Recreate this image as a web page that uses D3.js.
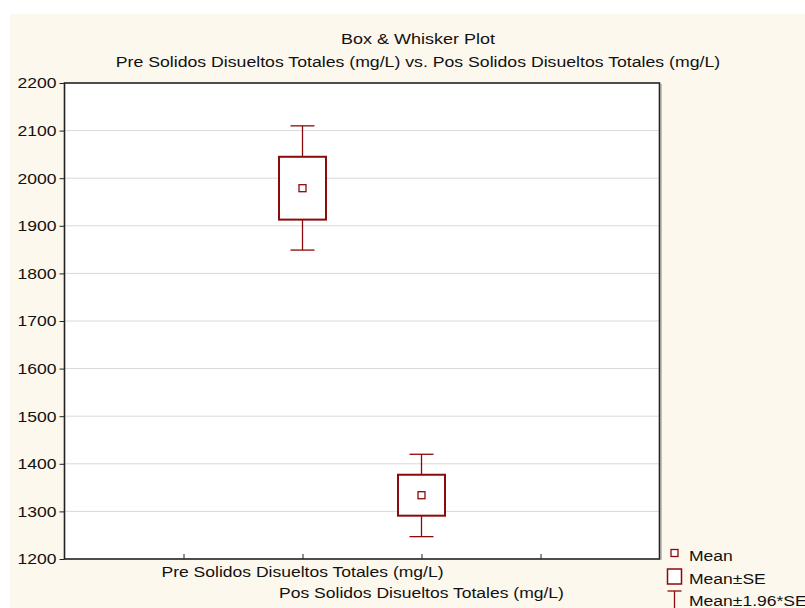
<!DOCTYPE html>
<html>
<head>
<meta charset="utf-8">
<script src="https://cdn.jsdelivr.net/npm/d3@7/dist/d3.min.js"></script>
<style>
  html, body { margin: 0; padding: 0; background: #ffffff; }
  svg { display: block; font-family: "Liberation Sans", Arial, sans-serif; }
</style>
</head>
<body>
<svg id="chart" width="805" height="608"></svg>
<script>
// Variables and their summary statistics (mg/L)
const categories = ["Pre Solidos Disueltos Totales (mg/L)", "Pos Solidos Disueltos Totales (mg/L)"];
const categoryPos = [2, 3];            // slot on the categorical axis
const means  = [1979, 1334];
const seLow  = [1913, 1291];           // Mean - SE
const seHigh = [2045, 1377];           // Mean + SE
const ciLow  = [1849, 1247];           // Mean - 1.96*SE
const ciHigh = [2110, 1420];           // Mean + 1.96*SE
const yTicks = [1200, 1300, 1400, 1500, 1600, 1700, 1800, 1900, 2000, 2100, 2200];
const xTicks = [1, 2, 3, 4];

const title = "Box & Whisker Plot";
const subtitle = "Pre Solidos Disueltos Totales (mg/L) vs. Pos Solidos Disueltos Totales (mg/L)";
const legendItems = ["Mean", "Mean\u00B1SE", "Mean\u00B11.96*SE"];

const RED = "#8b0a0a";
const FONT = "15.5px";
const svg = d3.select("#chart");

// widen glyphs slightly (wide sans rendering)
function widen(sel, k = 1.13) {
  sel.each(function () {
    const w = this.getComputedTextLength();
    d3.select(this).attr("textLength", w * k).attr("lengthAdjust", "spacingAndGlyphs");
  });
}

// cream panel
svg.append("rect").attr("x", 10).attr("y", 14).attr("width", 795).attr("height", 594).attr("fill", "#fdf8ee");

const plot = { left: 64.5, right: 659.5, top: 83, bottom: 559 };

const x = d3.scaleLinear().domain([0, 5]).range([plot.left, plot.right]);
const y = d3.scaleLinear().domain([1200, 2200]).range([plot.bottom, plot.top]);

// plot area background
svg.append("rect")
  .attr("x", plot.left).attr("y", plot.top)
  .attr("width", plot.right - plot.left).attr("height", plot.bottom - plot.top)
  .attr("fill", "#ffffff");

// horizontal gridlines
svg.append("g").selectAll("line")
  .data(yTicks.filter(t => t > 1200 && t < 2200))
  .join("line")
  .attr("x1", plot.left).attr("x2", plot.right)
  .attr("y1", d => y(d)).attr("y2", d => y(d))
  .attr("stroke", "#d9d9d9").attr("stroke-width", 1);

// y axis
const yAxis = svg.append("g")
  .attr("transform", `translate(${plot.left},0)`)
  .call(d3.axisLeft(y).tickValues(yTicks).tickSize(5).tickPadding(3).tickFormat(d3.format("d")));
yAxis.select(".domain").remove();
yAxis.selectAll(".tick line").attr("stroke", "#222");
yAxis.selectAll(".tick text").attr("fill", "#111").style("font-size", FONT).style("font-family", "Liberation Sans, Arial, sans-serif");
widen(yAxis.selectAll(".tick text"));

// x axis ticks (inward)
const xAxis = svg.append("g")
  .attr("transform", `translate(0,${plot.bottom})`)
  .call(d3.axisTop(x).tickValues(xTicks).tickSize(5).tickFormat(""));
xAxis.select(".domain").remove();
xAxis.selectAll(".tick line").attr("stroke", "#222");

// frame
svg.append("rect")
  .attr("x", plot.left).attr("y", plot.top)
  .attr("width", plot.right - plot.left).attr("height", plot.bottom - plot.top)
  .attr("fill", "none").attr("stroke", "#222").attr("stroke-width", 1.6);
svg.append("line")
  .attr("x1", plot.right + 1.5).attr("x2", plot.right + 1.5)
  .attr("y1", plot.top + 1).attr("y2", plot.bottom + 1)
  .attr("stroke", "#888").attr("stroke-width", 1);

// category labels, staggered
const catLabels = svg.append("g").selectAll("text")
  .data(categories)
  .join("text")
  .attr("x", (d, i) => x(categoryPos[i]))
  .attr("y", (d, i) => i === 0 ? 577 : 598)
  .attr("text-anchor", "middle")
  .attr("fill", "#111")
  .style("font-size", FONT)
  .text(d => d);
widen(catLabels);

// boxes and whiskers
const boxW = 47, capW = 24, meanSize = 7;
const g = svg.append("g");
categories.forEach((c, i) => {
  const cx = x(categoryPos[i]);
  // whisker stems
  g.append("line").attr("x1", cx).attr("x2", cx).attr("y1", y(ciHigh[i])).attr("y2", y(seHigh[i]))
    .attr("stroke", RED).attr("stroke-width", 1.3);
  g.append("line").attr("x1", cx).attr("x2", cx).attr("y1", y(seLow[i])).attr("y2", y(ciLow[i]))
    .attr("stroke", RED).attr("stroke-width", 1.3);
  // caps
  [ciHigh[i], ciLow[i]].forEach(v => {
    g.append("line").attr("x1", cx - capW / 2).attr("x2", cx + capW / 2).attr("y1", y(v)).attr("y2", y(v))
      .attr("stroke", RED).attr("stroke-width", 1.3);
  });
  // box
  g.append("rect")
    .attr("x", cx - boxW / 2).attr("y", y(seHigh[i]))
    .attr("width", boxW).attr("height", y(seLow[i]) - y(seHigh[i]))
    .attr("fill", "#ffffff").attr("stroke", RED).attr("stroke-width", 2);
  // mean marker
  g.append("rect")
    .attr("x", cx - meanSize / 2).attr("y", y(means[i]) - meanSize / 2)
    .attr("width", meanSize).attr("height", meanSize)
    .attr("fill", "#ffffff").attr("stroke", RED).attr("stroke-width", 1.3);
});

// titles
const t1 = svg.append("text").attr("x", 418).attr("y", 44).attr("text-anchor", "middle")
  .attr("fill", "#111").style("font-size", FONT).text(title);
const t2 = svg.append("text").attr("x", 418).attr("y", 67).attr("text-anchor", "middle")
  .attr("fill", "#111").style("font-size", FONT).text(subtitle);
widen(t1, 1.16);
widen(t2, 1.14);

// legend
const lg = svg.append("g");
const lx = 674.5;
lg.append("rect").attr("x", lx - 3.5).attr("y", 553 - 3.5).attr("width", 7).attr("height", 7)
  .attr("fill", "#fff").attr("stroke", RED).attr("stroke-width", 1.3);
lg.append("rect").attr("x", lx - 7).attr("y", 569).attr("width", 14).attr("height", 15)
  .attr("fill", "#fff").attr("stroke", RED).attr("stroke-width", 1.5);
lg.append("line").attr("x1", lx - 7).attr("x2", lx + 7).attr("y1", 591).attr("y2", 591).attr("stroke", RED).attr("stroke-width", 1.3);
lg.append("line").attr("x1", lx).attr("x2", lx).attr("y1", 591).attr("y2", 608).attr("stroke", RED).attr("stroke-width", 1.3);
const legText = lg.selectAll("text.leg")
  .data(legendItems)
  .join("text")
  .attr("class", "leg")
  .attr("x", 689)
  .attr("y", (d, i) => [561, 584, 606][i])
  .attr("fill", "#111")
  .style("font-size", FONT)
  .text(d => d);
widen(legText);
</script>
</body>
</html>
